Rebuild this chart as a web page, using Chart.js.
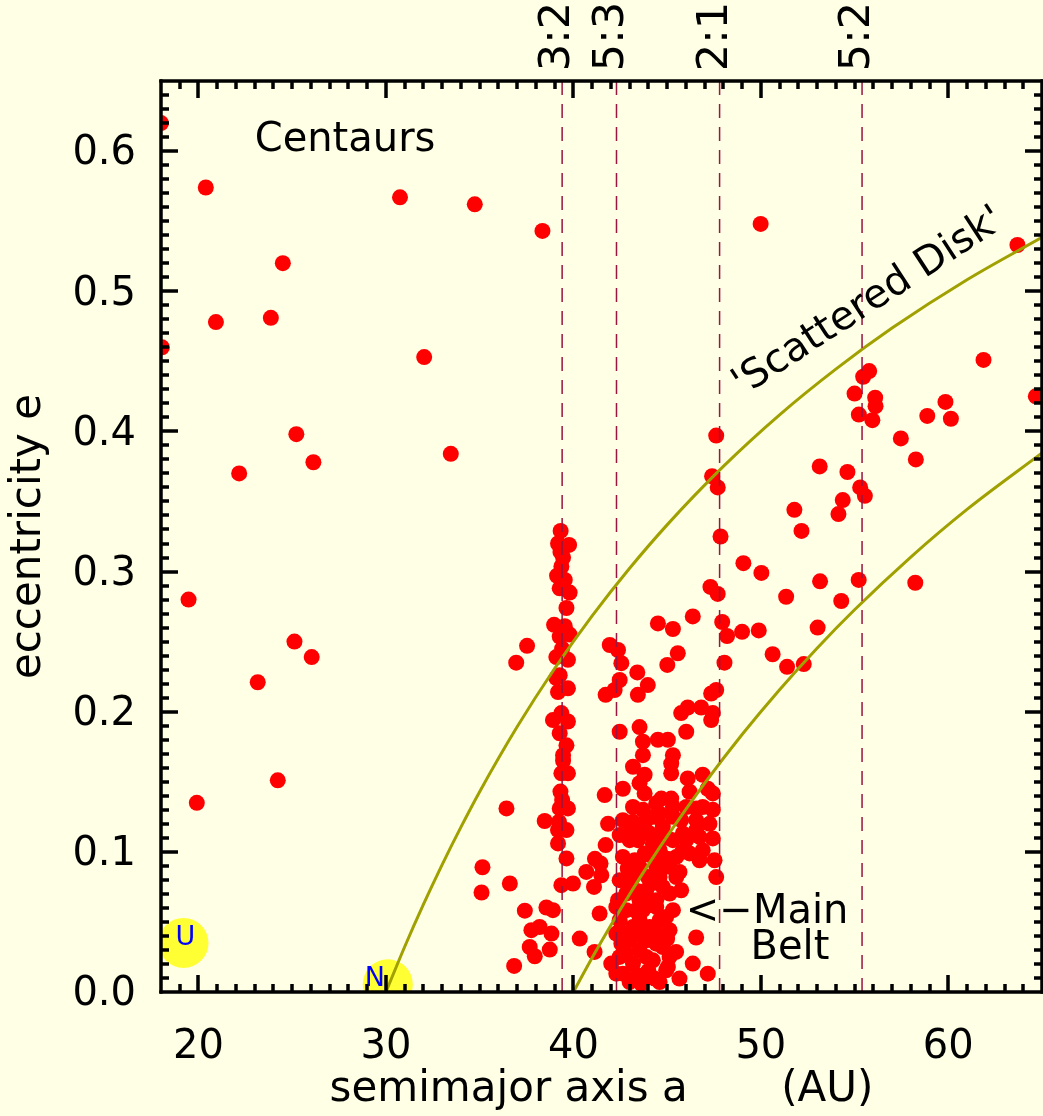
<!DOCTYPE html>
<html>
<head>
<meta charset="utf-8">
<script src="https://cdn.jsdelivr.net/npm/chart.js@4.4.0/dist/chart.umd.min.js"></script>
<style>
  html, body { margin: 0; padding: 0; background: #FFFFE6; }
</style>
</head>
<body>
<canvas id="orbits" width="1043" height="1116"></canvas>
<script>
// Trans-Neptunian objects: [semimajor axis a (AU), eccentricity e]
const centaurs = [
  [18.0, 0.620], [20.39, 0.574], [24.50, 0.520], [20.93, 0.478], [23.86, 0.481],
  [18.05, 0.460], [30.75, 0.567], [34.74, 0.562], [32.04, 0.453], [38.35, 0.543],
  [25.22, 0.398], [22.17, 0.370], [26.13, 0.378], [33.46, 0.384], [19.47, 0.280],
  [25.12, 0.250], [26.04, 0.239], [23.16, 0.221], [19.91, 0.135], [24.23, 0.151]
];
const innerObjects = [
  [36.43, 0.131], [35.15, 0.089], [36.61, 0.0774], [35.10, 0.071], [36.84, 0.0186],
  [37.41, 0.058], [38.47, 0.122], [38.56, 0.0603], [38.91, 0.0584], [37.76, 0.0441],
  [38.20, 0.0464], [38.83, 0.0417], [37.67, 0.0321], [37.94, 0.0255], [38.74, 0.0303],
  [37.53, 0.247], [36.95, 0.235], [40.34, 0.0381], [41.13, 0.0286]
];
const plutinos = [
  [39.32, 0.329], [39.18, 0.320], [39.77, 0.319], [39.31, 0.314], [39.36, 0.3036],
  [39.13, 0.297], [39.54, 0.294], [39.27, 0.288], [39.80, 0.285], [39.63, 0.274],
  [38.97, 0.262], [39.54, 0.261], [39.80, 0.255], [39.27, 0.2536], [39.09, 0.239],
  [39.71, 0.237], [39.27, 0.226], [39.09, 0.224], [39.71, 0.2167], [39.18, 0.214],
  [39.36, 0.199], [38.91, 0.194], [39.71, 0.193], [39.27, 0.1846], [39.63, 0.176],
  [39.45, 0.169], [39.36, 0.156], [39.71, 0.156], [39.31, 0.143], [39.27, 0.131],
  [39.71, 0.131], [39.23, 0.1214], [39.63, 0.1155], [39.18, 0.1155], [39.18, 0.106],
  [39.63, 0.0953], [39.36, 0.0762], [39.98, 0.0774], [39.45, 0.310], [39.40, 0.245],
  [39.45, 0.165], [39.40, 0.137]
];
const classicalBelt = [
  [41.67, 0.1405], [41.85, 0.120], [41.72, 0.1048], [41.15, 0.095], [40.69, 0.0857],
  [41.45, 0.0917], [41.49, 0.0833], [41.10, 0.075], [41.40, 0.056],
  [44.51, 0.263], [45.31, 0.259], [46.37, 0.268], [41.94, 0.2476], [42.38, 0.244],
  [42.56, 0.2346], [43.41, 0.228], [43.97, 0.219], [42.47, 0.2226], [41.72, 0.212],
  [42.20, 0.2155], [43.44, 0.212], [45.57, 0.2417], [45.01, 0.2334], [47.35, 0.213],
  [47.62, 0.2155], [45.75, 0.199], [46.10, 0.203], [46.82, 0.203], [47.44, 0.199],
  [47.35, 0.194], [46.02, 0.1857], [42.47, 0.1857], [43.53, 0.189], [43.71, 0.1786],
  [44.51, 0.180], [45.04, 0.180], [43.71, 0.169], [45.31, 0.169], [45.22, 0.163],
  [43.18, 0.1607], [43.80, 0.155], [45.22, 0.156], [43.53, 0.149], [46.10, 0.1524],
  [46.90, 0.155], [42.64, 0.145], [43.80, 0.1417], [44.69, 0.138], [45.22, 0.138],
  [46.20, 0.1429], [47.17, 0.145], [47.44, 0.1417],
  [43.18, 0.1214], [42.47, 0.112], [43.71, 0.130], [44.42, 0.1346], [45.31, 0.125],
  [46.55, 0.131], [47.44, 0.130], [47.26, 0.120], [47.44, 0.1096], [46.20, 0.0989],
  [47.53, 0.094], [47.62, 0.082], [45.66, 0.0857], [45.75, 0.0726], [45.13, 0.0893],
  [43.00, 0.1083], [43.27, 0.094], [42.47, 0.0798], [42.38, 0.0655], [42.29, 0.0417],
  [42.02, 0.0203], [42.64, 0.0131], [43.62, 0.006], [44.33, 0.0096], [45.04, 0.0179],
  [45.66, 0.0096], [46.37, 0.0203], [47.17, 0.0131], [46.55, 0.0389], [45.13, 0.0441],
  [45.31, 0.0584], [43.53, 0.0655], [44.42, 0.0655], [43.18, 0.0464], [44.07, 0.0464],
  [44.42, 0.0345], [43.53, 0.0298], [42.82, 0.0274], [43.00, 0.0774], [43.97, 0.082],
  [44.77, 0.075], [43.80, 0.0988], [44.60, 0.1012], [45.31, 0.1083], [45.84, 0.1131],
  [46.55, 0.1155], [44.77, 0.1179], [45.75, 0.1226], [44.07, 0.1131], [43.53, 0.0893],
  [44.42, 0.0893], [44.95, 0.0536], [42.82, 0.0584], [43.71, 0.0584], [44.24, 0.0226],
  [43.18, 0.0203], [42.56, 0.0345], [43.89, 0.0369], [44.77, 0.0321], [46.90, 0.1012],
  [46.73, 0.094], [46.02, 0.1083], [45.13, 0.0703], [42.82, 0.0703], [43.00, 0.0369],
  [42.47, 0.0512], [43.89, 0.0726], [43.44, 0.1083], [44.24, 0.106], [43.09, 0.1155],
  [44.60, 0.1274], [44.95, 0.0155], [45.48, 0.0286], [43.18, 0.132], [45.31, 0.132],
  [46.02, 0.132], [46.90, 0.132], [42.64, 0.1226], [43.89, 0.1226], [46.55, 0.1226],
  [44.60, 0.1107], [46.73, 0.1107], [42.64, 0.0964], [44.77, 0.0964], [45.49, 0.0964],
  [43.18, 0.082], [44.60, 0.082], [45.49, 0.082], [42.29, 0.0607], [44.42, 0.0607],
  [43.53, 0.0512], [44.60, 0.0512], [42.64, 0.0417], [43.71, 0.0417], [42.47, 0.025],
  [43.89, 0.025], [45.13, 0.025], [42.29, 0.0131], [43.89, 0.0131], [43.00, 0.0071],
  [44.60, 0.0071], [42.90, 0.088], [43.40, 0.072], [44.10, 0.062], [44.00, 0.098],
  [43.60, 0.118], [44.30, 0.125], [45.00, 0.110], [45.80, 0.100], [45.00, 0.095],
  [44.30, 0.078], [43.30, 0.058], [43.60, 0.040], [44.30, 0.045], [45.00, 0.038],
  [44.00, 0.015], [43.40, 0.012], [44.60, 0.040]
];
const scatteredObjects = [
  [47.62, 0.397], [47.40, 0.368], [47.70, 0.360], [47.85, 0.325], [49.07, 0.306],
  [50.03, 0.299], [47.31, 0.289], [47.70, 0.284], [51.35, 0.282], [47.94, 0.264],
  [48.20, 0.254], [49.00, 0.257], [49.89, 0.258], [48.06, 0.235], [50.63, 0.241],
  [51.40, 0.232], [52.29, 0.234], [53.03, 0.260], [53.16, 0.293], [54.29, 0.279],
  [55.22, 0.294], [58.24, 0.292], [51.79, 0.344], [52.17, 0.329], [53.14, 0.375],
  [54.62, 0.371], [54.37, 0.351], [54.14, 0.341], [55.30, 0.360], [55.55, 0.354],
  [57.47, 0.395], [58.27, 0.380], [58.88, 0.411], [59.85, 0.421], [60.14, 0.409],
  [64.67, 0.425], [61.88, 0.451], [55.78, 0.443], [55.46, 0.439], [55.00, 0.427],
  [56.10, 0.424], [56.12, 0.418], [55.23, 0.412], [55.95, 0.408], [49.99, 0.548],
  [63.69, 0.533]
];

// Planets (Uranus, Neptune)
const planetNames = ['U', 'N'];
const planetA = [19.2, 30.1];
const planetE = [0.035, 0.0055];

// Mean-motion resonances with Neptune
const resonanceNames = ['3:2', '5:3', '2:1', '5:2'];
const resonanceA = [39.4, 42.3, 47.8, 55.4];

// Curves of constant perihelion distance q = 30 AU and q = 40 AU
const q30A = [30, 31, 32, 33, 34, 35, 37, 39, 41, 43, 45, 48, 51, 54, 57, 61, 65];
const q30E = [0, 0.0323, 0.0625, 0.0909, 0.1176, 0.1429, 0.1892, 0.2308, 0.2683, 0.3023, 0.3333, 0.375, 0.4118, 0.4444, 0.4737, 0.5082, 0.5385];
const q40A = [40, 41, 42, 43, 44, 45, 47, 49, 51, 53, 55, 58, 61, 65];
const q40E = [0, 0.0244, 0.0476, 0.0698, 0.0909, 0.1111, 0.1489, 0.1837, 0.2157, 0.2453, 0.2727, 0.3103, 0.3443, 0.3846];

// Axis ticks (labelled majors; minor marks every 1 AU and every 0.01)
const xTickValues = [20, 30, 40, 50, 60];
const yTickValues = [0, 0.1, 0.2, 0.3, 0.4, 0.5, 0.6];
const xRange = [18, 65];
const yRange = [0, 0.65];

const FONT = "'DejaVu Sans', sans-serif";
const toPts = arr => arr.map(([a, e]) => ({ x: a, y: e }));
const zip = (as, es) => as.map((v, i) => ({ x: v, y: es[i] }));

const kboStyle = {
  pointRadius: 8, pointHoverRadius: 8, pointBackgroundColor: '#FF0000',
  pointBorderWidth: 0, showLine: false, order: 2
};

const datasets = [];
resonanceA.forEach(a => datasets.push({
  data: [{ x: a, y: yRange[0] }, { x: a, y: yRange[1] }],
  showLine: true, borderColor: '#9A1540', borderWidth: 1.5, borderDash: [14, 9],
  pointRadius: 0, order: 0
}));
[[q30A, q30E], [q40A, q40E]].forEach(([as, es]) => datasets.push({
  data: zip(as, es), showLine: true, borderColor: '#A0A000', borderWidth: 3,
  cubicInterpolationMode: 'monotone', pointRadius: 0, order: 1
}));
[centaurs, innerObjects, plutinos, classicalBelt, scatteredObjects].forEach(g =>
  datasets.push(Object.assign({ data: toPts(g) }, kboStyle)));
datasets.push({
  data: zip(planetA, planetE), showLine: false, pointRadius: 25, pointHoverRadius: 25,
  pointBackgroundColor: '#FFFF33', pointBorderWidth: 0, order: 3
});

// pale background
const background = {
  id: 'background',
  beforeDraw(c) {
    c.ctx.save();
    c.ctx.fillStyle = '#FFFFE6';
    c.ctx.fillRect(0, 0, c.width, c.height);
    c.ctx.restore();
  }
};

// box frame with inward tick marks on all four sides
function drawFrame(chart) {
  const { ctx, chartArea: ca } = chart;
  const sx = chart.scales.x, sy = chart.scales.y;
  const L = Math.round(ca.left), R = Math.round(ca.right);
  const T = Math.round(ca.top), B = Math.round(ca.bottom);
  ctx.save();
  ctx.globalAlpha = 1;
  ctx.globalCompositeOperation = 'source-over';
  ctx.fillStyle = '#000000';
  for (let v = 19; v <= 64; v++) {
    const px = Math.round(sx.getPixelForValue(v));
    const len = v % 10 === 0 ? 17 : 8;
    ctx.fillRect(px - 1.5, B - len, 3, len);
    ctx.fillRect(px - 1.5, T, 3, len);
  }
  for (let i = 1; i <= 64; i++) {
    const py = Math.round(sy.getPixelForValue(i / 100));
    const len = i % 10 === 0 ? 17 : 8;
    ctx.fillRect(L, py - 1.5, len, 3);
    ctx.fillRect(R - len, py - 1.5, len, 3);
  }
  ctx.fillRect(L - 1.5, T - 1.5, R - L + 3, 3);
  ctx.fillRect(L - 1.5, B - 1.5, R - L + 3, 3);
  ctx.fillRect(L - 1.5, T - 1.5, 3, B - T + 3);
  ctx.fillRect(R - 1.5, T - 1.5, 3, B - T + 3);
  ctx.restore();
}

// annotations: resonance names, region names, planet letters
function drawAnnotations(chart) {
  const ctx = chart.ctx;
  const sx = chart.scales.x, sy = chart.scales.y;
  ctx.save();
  ctx.fillStyle = '#000000';
  ctx.font = `43px ${FONT}`;
  ctx.textAlign = 'left';
  ctx.textBaseline = 'alphabetic';
  resonanceA.forEach((a, i) => {
    ctx.save();
    ctx.translate(sx.getPixelForValue(a) + 7, sy.getPixelForValue(0.657));
    ctx.rotate(-Math.PI / 2);
    ctx.fillText(resonanceNames[i], 0, 0);
    ctx.restore();
  });

  ctx.font = `40px ${FONT}`;
  ctx.fillText('Centaurs', sx.getPixelForValue(23.0), sy.getPixelForValue(0.600));
  ctx.fillText('<\u2212Main', sx.getPixelForValue(46.0), sy.getPixelForValue(0.049));
  ctx.fillText('Belt', sx.getPixelForValue(49.45), sy.getPixelForValue(0.0234));

  ctx.save();
  ctx.translate(sx.getPixelForValue(55.75), sy.getPixelForValue(0.492));
  ctx.rotate(-33 * Math.PI / 180);
  ctx.textAlign = 'center';
  ctx.textBaseline = 'middle';
  ctx.fillText("'Scattered Disk'", 0, 0);
  ctx.restore();

  ctx.fillStyle = '#0000FF';
  ctx.font = `27px ${FONT}`;
  ctx.textAlign = 'center';
  ctx.textBaseline = 'middle';
  const shift = [[2, -5], [-13, -5]];
  planetNames.forEach((n, i) => {
    ctx.fillText(n, sx.getPixelForValue(planetA[i]) + shift[i][0], sy.getPixelForValue(planetE[i]) + shift[i][1]);
  });
  ctx.restore();
}

const overlay = {
  id: 'overlay',
  afterDatasetsDraw(chart) { drawFrame(chart); },
  afterDraw(chart) {
    drawAnnotations(chart);
    drawFrame(chart);
  }
};

new Chart(document.getElementById('orbits'), {
  type: 'scatter',
  data: { datasets },
  plugins: [background, overlay],
  options: {
    responsive: false,
    animation: false,
    devicePixelRatio: 1,
    layout: { autoPadding: false, padding: { top: 81, right: 1, left: 0, bottom: 0 } },
    plugins: { legend: { display: false }, tooltip: { enabled: false } },
    scales: {
      x: {
        type: 'linear', min: xRange[0], max: xRange[1],
        grid: { display: false }, border: { display: false },
        afterBuildTicks: s => { s.ticks = xTickValues.map(v => ({ value: v })); },
        afterFit: s => { s.height = 124; s.paddingLeft = 0; s.paddingRight = 0; },
        ticks: { color: '#000', font: { family: FONT, size: 40 }, padding: 24, maxRotation: 0,
                 callback: v => String(v) },
        title: { display: true, text: 'semimajor axis a       (AU)', color: '#000',
                 font: { family: FONT, size: 42 }, padding: { top: 0, bottom: 1 } }
      },
      y: {
        type: 'linear', min: yRange[0], max: yRange[1],
        grid: { display: false }, border: { display: false },
        afterBuildTicks: s => { s.ticks = yTickValues.map(v => ({ value: v })); },
        afterFit: s => { s.width = 161; s.paddingTop = 0; s.paddingBottom = 0; },
        ticks: { color: '#000', font: { family: FONT, size: 40 }, padding: 17, labelOffset: 3,
                 callback: v => Number(v).toFixed(1) },
        title: { display: true, text: 'eccentricity e', color: '#000',
                 font: { family: FONT, size: 42 }, padding: { top: 4, bottom: 0 } }
      }
    }
  }
});
</script>
</body>
</html>
